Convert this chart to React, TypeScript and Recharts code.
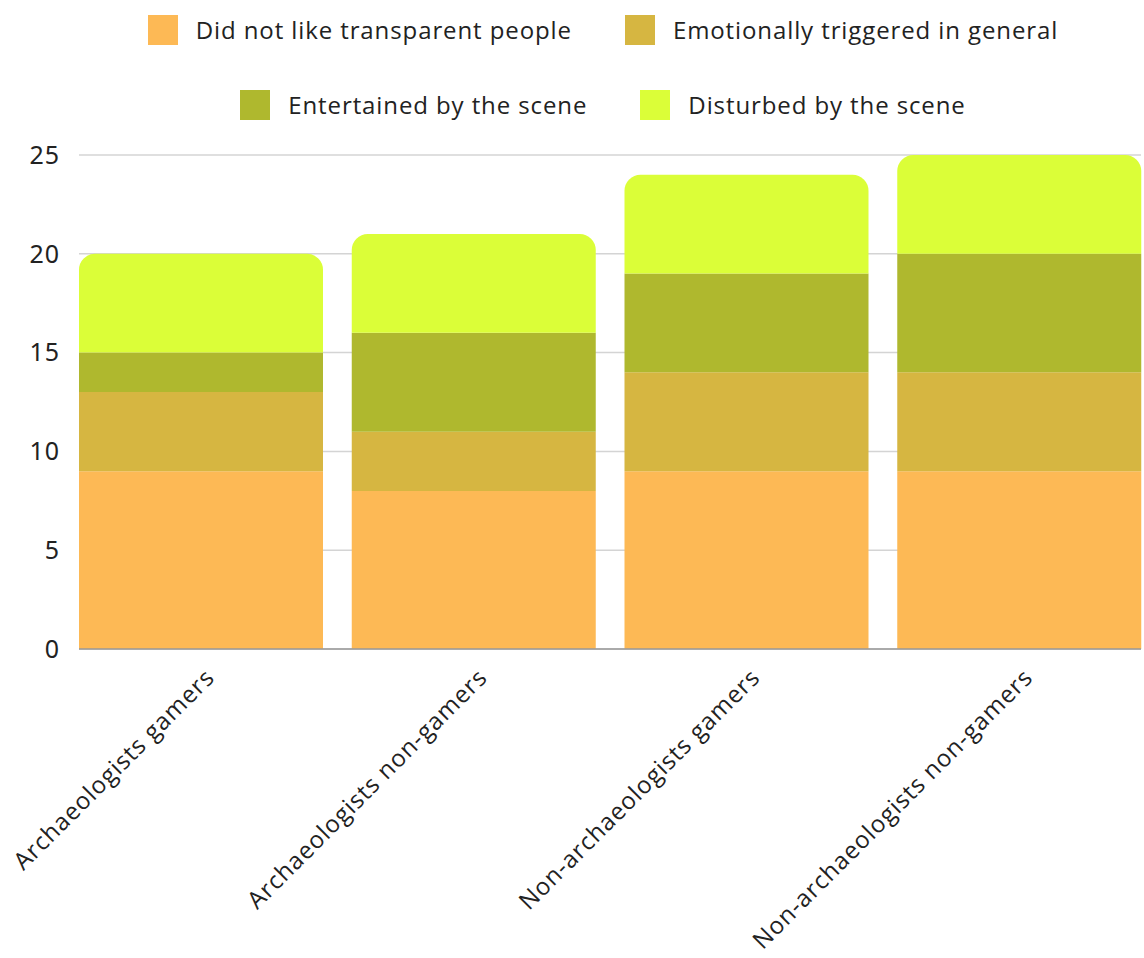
import { BarChart, Bar, XAxis, YAxis, CartesianGrid } from "recharts";

const CATEGORIES = [
  "Archaeologists gamers",
  "Archaeologists non-gamers",
  "Non-archaeologists gamers",
  "Non-archaeologists non-gamers",
];
const DID_NOT_LIKE = [9, 8, 9, 9];
const EMOTIONALLY = [4, 3, 5, 5];
const ENTERTAINED = [2, 5, 5, 6];
const DISTURBED = [5, 5, 5, 5];
const Y_TICKS = [0, 5, 10, 15, 20, 25];

const SERIES = [
  { key: "didNotLike", name: "Did not like transparent people", color: "#FDB955" },
  { key: "emotionally", name: "Emotionally triggered in general", color: "#D6B641" },
  { key: "entertained", name: "Entertained by the scene", color: "#AFB82E" },
  { key: "disturbed", name: "Disturbed by the scene", color: "#DBFE38" },
];

const data = CATEGORIES.map((name, i) => ({
  name,
  didNotLike: DID_NOT_LIKE[i],
  emotionally: EMOTIONALLY[i],
  entertained: ENTERTAINED[i],
  disturbed: DISTURBED[i],
}));

const FONT = "'Open Sans', sans-serif";

const XTick = (props: { x?: number; y?: number; payload?: { value: string } }) => {
  const { x = 0, y = 0, payload } = props;
  const ax = x + 15;
  const ay = y + 22;
  return (
    <text
      x={ax}
      y={ay}
      transform={`rotate(-45, ${ax}, ${ay})`}
      textAnchor="end"
      fill="#222"
      fontSize={24}
      letterSpacing={0.9}
      fontFamily={FONT}
    >
      {payload?.value}
    </text>
  );
};

function LegendRow({ items }: { items: typeof SERIES }) {
  return (
    <div style={{ display: "flex", justifyContent: "center", gap: 53 }}>
      {items.map((s) => (
        <div key={s.key} style={{ display: "flex", alignItems: "center" }}>
          <span
            style={{
              width: 30,
              height: 30,
              background: s.color,
              display: "inline-block",
              marginRight: 18,
            }}
          />
          <span style={{ fontSize: 24, letterSpacing: 0.9, color: "#222", fontFamily: FONT }}>
            {s.name}
          </span>
        </div>
      ))}
    </div>
  );
}

export default function App() {
  return (
    <div style={{ position: "absolute", left: 0, top: 0, width: 1144, height: 958, background: "#fff" }}>
      <div style={{ position: "absolute", left: 63, width: 1080, top: 13 }}>
        <LegendRow items={SERIES.slice(0, 2)} />
      </div>
      <div style={{ position: "absolute", left: 63, width: 1080, top: 88 }}>
        <LegendRow items={SERIES.slice(2, 4)} />
      </div>
      <BarChart
        width={1144}
        height={958}
        data={data}
        margin={{ top: 155, right: 3, left: 0, bottom: 0 }}
        barCategoryGap={14.5}
      >
        <CartesianGrid vertical={false} stroke="#d4d4d4" strokeWidth={1.5} />
        <XAxis
          dataKey="name"
          height={309}
          interval={0}
          padding={{ left: -14.5, right: -14.5 }}
          tick={<XTick />}
          tickLine={false}
          axisLine={{ stroke: "#999", strokeWidth: 1.5 }}
        />
        <YAxis
          width={79}
          domain={[0, 25]}
          ticks={Y_TICKS}
          axisLine={false}
          tickLine={false}
          tickSize={0}
          tickMargin={19}
          tick={{ fontSize: 25, fill: "#222", fontFamily: "'Noto Sans', sans-serif", letterSpacing: 1 }}
        />
        {SERIES.map((s, i) => (
          <Bar
            key={s.key}
            dataKey={s.key}
            name={s.name}
            stackId="a"
            fill={s.color}
            radius={i === SERIES.length - 1 ? [16, 16, 0, 0] : 0}
            isAnimationActive={false}
          />
        ))}
      </BarChart>
    </div>
  );
}
